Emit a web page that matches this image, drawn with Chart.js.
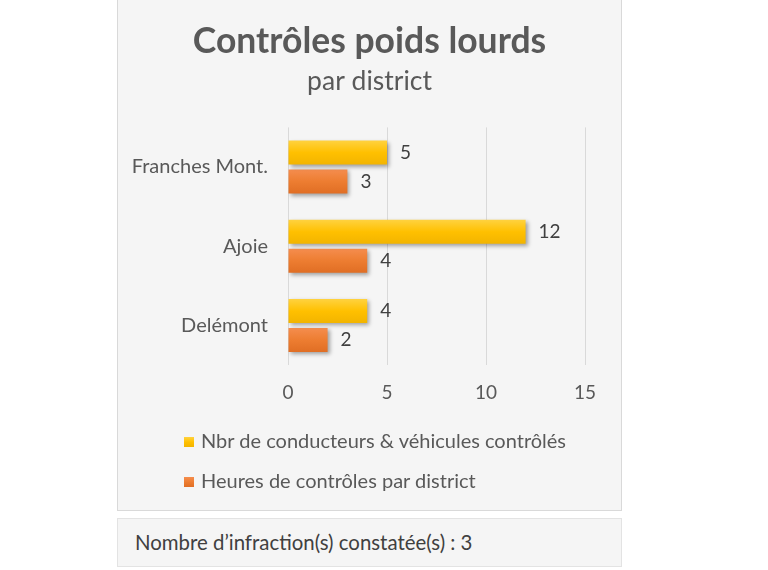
<!DOCTYPE html>
<html>
<head>
<meta charset="utf-8">
<script src="https://cdn.jsdelivr.net/npm/chart.js@4/dist/chart.umd.min.js"></script>
<style>
  html, body { margin: 0; padding: 0; background: #ffffff; width: 768px; height: 570px; overflow: hidden; }
  #panel { position: absolute; left: 117px; top: -2px; width: 503px; height: 511px; background: #f5f5f5; border: 1px solid #d9d9d9; }
  #wrap { position: absolute; left: 0; top: 2px; width: 503px; height: 509px; }
  #legend { position: absolute; left: 66px; top: 0; font-family: Lato, sans-serif; font-size: 20px; color: #595959; }
  .li { position: absolute; white-space: nowrap; left: 0; }
  .sw { display: inline-block; width: 10px; height: 10px; margin-right: 7px; vertical-align: 1px; }
  #note { position: absolute; left: 117px; top: 518px; width: 503px; height: 47px; background: #f5f5f5; border: 1px solid #e3e3e3; font-family: Lato, sans-serif; font-size: 20.4px; color: #404040; line-height: 47px; }
  #note span { position: absolute; left: 17px; }
</style>
</head>
<body>
<div id="panel">
  <div id="wrap"><canvas id="c" width="503" height="509"></canvas></div>
  <div id="legend"></div>
</div>
<div id="note"><span>Nombre d’infraction(s) constatée(s) : 3</span></div>
<script>
const categories = ["Franches Mont.", "Ajoie", "Delémont"];
const seriesNames = ["Nbr de conducteurs & véhicules contrôlés", "Heures de contrôles par district"];
const vehicules = [5, 12, 4];
const heures = [3, 4, 2];
const xTicks = [0, 5, 10, 15];
const colors = ["#FFC000", "#ED7D31"];
const gradStops = [["#FFD23F", "#FFC000", "#F2B400"], ["#F58D4E", "#ED7D31", "#E06E24"]];

const shadowAndLabels = {
  id: 'shadowAndLabels',
  beforeDatasetsDraw(chart) {
    const ctx = chart.ctx;
    chart.data.datasets.forEach((ds, di) => {
      const meta = chart.getDatasetMeta(di);
      meta.data.forEach((bar) => {
        const h = bar.height;
        const g = ctx.createLinearGradient(0, bar.y - h / 2, 0, bar.y + h / 2);
        g.addColorStop(0, gradStops[di][0]);
        g.addColorStop(0.5, gradStops[di][1]);
        g.addColorStop(1, gradStops[di][2]);
        bar.options = Object.assign({}, bar.options, { backgroundColor: g });
      });
    });
    ctx.save();
    ctx.shadowColor = 'rgba(0,0,0,0.35)';
    ctx.shadowBlur = 4;
    ctx.shadowOffsetX = 2;
    ctx.shadowOffsetY = 2;
  },
  afterDatasetsDraw(chart) {
    const ctx = chart.ctx;
    ctx.restore();
    ctx.save();
    ctx.font = '19px Lato, sans-serif';
    ctx.fillStyle = '#404040';
    ctx.textAlign = 'left';
    ctx.textBaseline = 'middle';
    chart.data.datasets.forEach((ds, di) => {
      const meta = chart.getDatasetMeta(di);
      meta.data.forEach((bar, i) => {
        ctx.fillText(String(ds.data[i]), bar.x + 13, bar.y);
      });
    });
    ctx.restore();
  }
};

const chart = new Chart(document.getElementById('c'), {
  type: 'bar',
  data: {
    labels: categories,
    datasets: [
      { label: seriesNames[0], data: vehicules, backgroundColor: colors[0], categoryPercentage: 0.73, barPercentage: 0.83 },
      { label: seriesNames[1], data: heures, backgroundColor: colors[1], categoryPercentage: 0.73, barPercentage: 0.83 }
    ]
  },
  options: {
    indexAxis: 'y',
    responsive: false,
    animation: false,
    devicePixelRatio: 1,
    layout: { padding: { left: 0, right: 0, top: 0, bottom: 90 } },
    plugins: {
      legend: { display: false },
      tooltip: { enabled: false },
      title: {
        display: true,
        text: 'Contrôles poids lourds',
        color: '#595959',
        font: { family: 'Lato', size: 35.5, weight: 'bold' },
        padding: { top: 19, bottom: 0 }
      },
      subtitle: {
        display: true,
        text: 'par district',
        color: '#595959',
        font: { family: 'Lato', size: 26.5, weight: 'normal' },
        padding: { top: 3, bottom: 30 }
      }
    },
    scales: {
      x: {
        min: 0, max: 15,
        afterBuildTicks(scale) { scale.ticks = xTicks.map(v => ({ value: v })); },
        grid: { color: '#d9d9d9', drawTicks: false, lineWidth: 1 },
        border: { display: false },
        ticks: { color: '#595959', font: { family: 'Lato', size: 19 }, padding: 16 }
      },
      y: {
        grid: { display: false, drawTicks: false },
        border: { display: false },
        afterFit(scale) { scale.width = 170; },
        ticks: { color: '#595959', font: { family: 'Lato', size: 20 }, padding: 20 }
      },
      yRight: {
        type: 'category',
        position: 'right',
        grid: { display: false, drawTicks: false },
        border: { display: false },
        ticks: { display: false },
        afterFit(scale) { scale.width = 36; }
      }
    }
  },
  plugins: [shadowAndLabels]
});

const legend = document.getElementById('legend');
const legendTops = [441, 481];
seriesNames.forEach((name, i) => {
  const d = document.createElement('div');
  d.className = 'li';
  d.style.top = (legendTops[i] - 12) + 'px';
  d.innerHTML = '<span class="sw" style="background:linear-gradient(' + gradStops[i][0] + ',' + gradStops[i][1] + ',' + gradStops[i][2] + ')"></span>' + name;
  legend.appendChild(d);
});
</script>
</body>
</html>
